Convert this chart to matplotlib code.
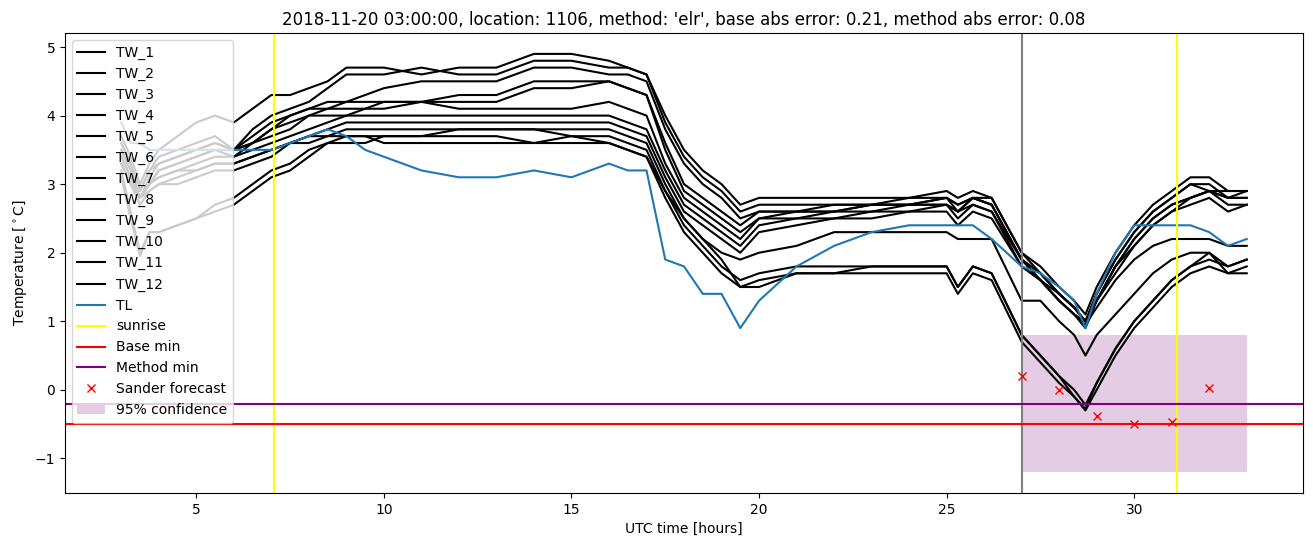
import numpy as np
import matplotlib
matplotlib.use('Agg')
import matplotlib.pyplot as plt

# time axis [hours]
hours = [3.0, 3.25, 3.5, 3.75, 4.0, 4.5, 5.0, 5.5, 6.0, 6.5,
         7.0, 7.5, 8.0, 8.5, 9.0, 9.5, 10, 11, 12, 13,
         14, 15, 16, 16.5, 17, 17.5, 18, 18.5, 19, 19.5,
         20, 21, 22, 23, 24, 25, 25.3, 25.7, 26.2, 27,
         27.5, 28, 28.4, 28.7, 29, 29.5, 30, 30.5, 31, 31.5,
         32, 32.5, 33]

tw_1 = [3.7, 3.4, 3.0, 3.3, 3.5, 3.7, 3.9, 4.0, 3.9, 4.1,
        4.3, 4.3, 4.4, 4.5, 4.7, 4.7, 4.7, 4.6, 4.7, 4.7,
        4.9, 4.9, 4.8, 4.7, 4.6, 4.0, 3.5, 3.2, 3.0, 2.7,
        2.8, 2.8, 2.8, 2.8, 2.8, 2.9, 2.8, 2.9, 2.8, 2.0,
        1.8, 1.5, 1.3, 1.1, 1.5, 2.0, 2.4, 2.7, 2.9, 3.1,
        3.1, 2.9, 2.9]
tw_2 = [3.6, 3.3, 2.9, 3.2, 3.4, 3.5, 3.6, 3.7, 3.5, 3.8,
        4.0, 4.1, 4.2, 4.4, 4.6, 4.6, 4.6, 4.7, 4.6, 4.6,
        4.8, 4.8, 4.7, 4.7, 4.6, 3.9, 3.4, 3.1, 2.9, 2.6,
        2.7, 2.7, 2.7, 2.7, 2.7, 2.8, 2.6, 2.8, 2.8, 2.0,
        1.7, 1.4, 1.2, 1.0, 1.4, 1.9, 2.3, 2.6, 2.8, 3.0,
        3.0, 2.8, 2.8]
tw_3 = [3.5, 3.2, 2.8, 3.1, 3.3, 3.4, 3.5, 3.6, 3.5, 3.7,
        3.9, 4.0, 4.1, 4.2, 4.2, 4.3, 4.4, 4.5, 4.5, 4.5,
        4.7, 4.7, 4.6, 4.6, 4.5, 3.8, 3.3, 3.0, 2.8, 2.5,
        2.6, 2.6, 2.6, 2.7, 2.7, 2.8, 2.7, 2.8, 2.7, 1.9,
        1.7, 1.4, 1.2, 1.0, 1.4, 1.9, 2.3, 2.6, 2.8, 3.0,
        2.9, 2.8, 2.9]
tw_4 = [3.6, 3.3, 2.9, 3.2, 3.3, 3.4, 3.5, 3.6, 3.5, 3.6,
        3.8, 4.0, 4.1, 4.1, 4.2, 4.2, 4.2, 4.2, 4.3, 4.3,
        4.5, 4.5, 4.5, 4.4, 4.3, 3.6, 3.0, 2.8, 2.6, 2.4,
        2.6, 2.6, 2.7, 2.7, 2.8, 2.8, 2.7, 2.8, 2.7, 1.9,
        1.6, 1.3, 1.1, 0.9, 1.3, 1.8, 2.2, 2.5, 2.7, 2.8,
        2.9, 2.7, 2.7]
tw_5 = [3.4, 3.1, 2.8, 3.0, 3.2, 3.3, 3.4, 3.5, 3.4, 3.6,
        3.8, 3.9, 4.0, 4.1, 4.1, 4.1, 4.2, 4.2, 4.2, 4.2,
        4.4, 4.4, 4.5, 4.4, 4.3, 3.5, 2.9, 2.7, 2.5, 2.3,
        2.5, 2.6, 2.6, 2.6, 2.7, 2.7, 2.6, 2.8, 2.7, 1.9,
        1.7, 1.4, 1.2, 1.0, 1.3, 1.8, 2.2, 2.5, 2.7, 2.8,
        2.9, 2.8, 2.8]
tw_6 = [3.5, 3.2, 2.8, 3.0, 3.2, 3.3, 3.4, 3.5, 3.5, 3.6,
        3.7, 3.8, 4.0, 4.0, 4.0, 4.1, 4.1, 4.2, 4.1, 4.1,
        4.1, 4.1, 4.2, 4.1, 4.0, 3.3, 2.8, 2.6, 2.4, 2.2,
        2.5, 2.5, 2.6, 2.7, 2.7, 2.7, 2.6, 2.7, 2.6, 1.9,
        1.6, 1.4, 1.2, 1.0, 1.3, 1.8, 2.1, 2.4, 2.6, 2.7,
        2.8, 2.6, 2.7]
tw_7 = [3.4, 3.1, 2.8, 3.0, 3.1, 3.2, 3.3, 3.4, 3.4, 3.5,
        3.6, 3.7, 3.8, 3.9, 4.0, 4.0, 4.0, 4.0, 4.0, 4.0,
        4.0, 4.0, 4.0, 3.9, 3.8, 3.2, 2.7, 2.5, 2.3, 2.1,
        2.4, 2.5, 2.5, 2.6, 2.6, 2.7, 2.5, 2.7, 2.6, 1.8,
        1.6, 1.3, 1.1, 1.0, 1.3, 1.7, 2.1, 2.4, 2.6, 2.8,
        2.9, 2.9, 2.9]
tw_8 = [3.3, 3.0, 2.7, 2.9, 3.0, 3.1, 3.2, 3.3, 3.3, 3.4,
        3.5, 3.6, 3.7, 3.8, 3.9, 3.9, 3.9, 3.9, 3.9, 3.9,
        3.9, 3.9, 3.9, 3.8, 3.7, 3.1, 2.6, 2.4, 2.2, 2.0,
        2.3, 2.4, 2.5, 2.5, 2.6, 2.6, 2.4, 2.6, 2.5, 1.8,
        1.6, 1.3, 1.1, 0.95, 1.2, 1.6, 1.9, 2.1, 2.2, 2.2,
        2.2, 2.1, 2.1]
tw_9 = [3.3, 3.0, 2.8, 2.9, 3.0, 3.0, 3.1, 3.2, 3.2, 3.3,
        3.4, 3.6, 3.7, 3.7, 3.8, 3.8, 3.8, 3.8, 3.8, 3.8,
        3.8, 3.8, 3.8, 3.7, 3.6, 3.0, 2.5, 2.2, 2.0, 1.9,
        2.0, 2.1, 2.3, 2.3, 2.3, 2.3, 2.2, 2.2, 2.2, 1.3,
        1.3, 1.0, 0.8, 0.5, 0.8, 1.1, 1.4, 1.7, 1.9, 2.0,
        2.0, 1.8, 1.9]
tw_10 = [3.2, 2.6, 2.0, 2.3, 2.3, 2.4, 2.5, 2.7, 2.8, 3.0,
         3.2, 3.3, 3.5, 3.6, 3.7, 3.7, 3.7, 3.7, 3.8, 3.8,
         3.8, 3.7, 3.7, 3.6, 3.5, 2.9, 2.4, 2.1, 1.8, 1.6,
         1.7, 1.8, 1.8, 1.8, 1.8, 1.8, 1.5, 1.8, 1.7, 0.8,
         0.5, 0.2, -0.1, -0.28, 0.1, 0.6, 1.0, 1.3, 1.6, 1.8,
         2.0, 1.7, 1.8]
tw_11 = [3.1, 2.5, 1.95, 2.3, 2.3, 2.4, 2.5, 2.6, 2.7, 2.9,
         3.1, 3.2, 3.4, 3.6, 3.6, 3.6, 3.7, 3.7, 3.7, 3.7,
         3.6, 3.7, 3.6, 3.5, 3.4, 2.8, 2.3, 2.0, 1.7, 1.5,
         1.6, 1.7, 1.7, 1.7, 1.7, 1.7, 1.4, 1.7, 1.6, 0.7,
         0.4, 0.1, -0.1, -0.3, 0.0, 0.5, 0.9, 1.2, 1.5, 1.7,
         1.8, 1.7, 1.7]
tw_12 = [3.4, 3.1, 2.8, 3.0, 3.1, 3.2, 3.2, 3.3, 3.3, 3.4,
         3.5, 3.6, 3.6, 3.7, 3.7, 3.7, 3.6, 3.6, 3.6, 3.6,
         3.6, 3.6, 3.6, 3.5, 3.4, 2.9, 2.5, 2.2, 1.9, 1.5,
         1.5, 1.7, 1.7, 1.8, 1.8, 1.8, 1.5, 1.8, 1.7, 0.8,
         0.5, 0.2, 0.0, -0.22, 0.1, 0.6, 1.0, 1.3, 1.6, 1.8,
         1.9, 1.8, 1.9]

tl = [3.9, 3.6, 3.6, 3.5, 3.5, 3.5, 3.5, 3.5, 3.5, 3.5,
      3.5, 3.6, 3.7, 3.8, 3.7, 3.5, 3.4, 3.2, 3.1, 3.1,
      3.2, 3.1, 3.3, 3.2, 3.2, 1.9, 1.8, 1.4, 1.4, 0.9,
      1.3, 1.8, 2.1, 2.3, 2.4, 2.4, 2.4, 2.4, 2.2, 1.8,
      1.7, 1.5, 1.3, 0.9, 1.4, 2.0, 2.4, 2.4, 2.4, 2.4,
      2.3, 2.1, 2.2]

tw_all = [tw_1, tw_2, tw_3, tw_4, tw_5, tw_6, tw_7, tw_8, tw_9, tw_10, tw_11, tw_12]

sunrise = [7.08, 31.13]
forecast_time = 27
base_min = -0.5
method_min = -0.21
sander_hours = [27, 28, 29, 30, 31, 32]
sander_vals = [0.2, 0.0, -0.38, -0.5, -0.47, 0.02]
conf_hours = [27, 33]
conf_low = -1.2
conf_high = 0.8

fig, ax = plt.subplots(figsize=(13.13, 5.47), dpi=100)
fig.subplots_adjust(left=0.0495, right=0.9924, top=0.9397, bottom=0.0987)

for i, tw in enumerate(tw_all):
    ax.plot(hours, tw, color='black', label='TW_' + str(i + 1))
ax.plot(hours, tl, color='tab:blue', label='TL')

ax.axvline(sunrise[0], color='yellow', label='sunrise')
ax.axvline(sunrise[1], color='yellow')
ax.axvline(forecast_time, color='grey')
ax.axhline(base_min, color='red', label='Base min')
ax.axhline(method_min, color='purple', label='Method min')
ax.plot(sander_hours, sander_vals, 'x', color='red', label='Sander forecast')
ax.fill_between(conf_hours, conf_low, conf_high, color='purple', alpha=0.2,
                linewidth=0, label='95% confidence')

ax.set_title("2018-11-20 03:00:00, location: 1106, method: 'elr', "
             "base abs error: 0.21, method abs error: 0.08")
ax.set_xlabel('UTC time [hours]')
ax.set_ylabel('Temperature [$^\\circ$C]')
ax.legend(loc='upper left')

plt.savefig('out.png')
